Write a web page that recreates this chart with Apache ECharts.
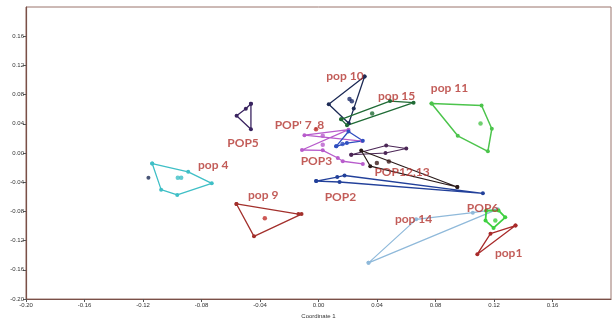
<!DOCTYPE html>
<html><head><meta charset="utf-8">
<script src="https://cdn.jsdelivr.net/npm/echarts@6/dist/echarts.min.js"></script>
<style>html,body{margin:0;padding:0;background:#fff}#c{width:612px;height:324px}</style>
</head><body><div id="c"></div>
<script>
// ---- data (Coordinate 1, Coordinate 2) ----
const axisMin = -0.2, axisMax = 0.2, axisStep = 0.04;

const pop4Hull  = [[-0.1137,-0.0145],[-0.0891,-0.0258],[-0.0730,-0.0416],[-0.0966,-0.0574],[-0.1076,-0.0502]];
const pop4Inner = [[-0.0962,-0.0339],[-0.0939,-0.0339]];
const pop9Hull  = [[-0.0561,-0.0698],[-0.0137,-0.0837],[-0.0116,-0.0837],[-0.0441,-0.1142]];
const pop9Inner = [[-0.0367,-0.0895]];
const pop5Hull  = [[-0.0462,0.0675],[-0.0497,0.0606],[-0.0560,0.0511],[-0.0462,0.0325]];
const pop10Hull = [[0.0315,0.1048],[0.0070,0.0669],[0.0207,0.0407],[0.0241,0.0608]];
const pop10Inner= [[0.0212,0.0739],[0.0228,0.0709]];
const pop15Hull = [[0.0155,0.0461],[0.0489,0.0712],[0.0650,0.0689],[0.0195,0.0380]];
const pop15Inner= [[0.0367,0.0542]];
const pop11Hull = [[0.0773,0.0678],[0.1115,0.0651],[0.1185,0.0332],[0.1158,0.0023],[0.0952,0.0235]];
const pop11Inner= [[0.1108,0.0404]];
const pop3Path  = [[0.0298,0.0163],[-0.0096,0.0244],[0.0205,0.0319],[-0.0113,0.0041],[0.0029,0.0037],[0.0132,-0.0068],[0.0166,-0.0113],[0.0303,-0.0149]];
const pop3Inner = [[0.0029,0.0235],[0.0029,0.0113]];
const pop78Hull = [[0.0121,0.0091],[0.0205,0.0294],[0.0303,0.0167],[0.0194,0.0136]];
const pop78Inner= [[0.0164,0.0122]];
const pop78Mark = [[-0.0017,0.0325]];
const pop12Hull = [[0.0224,-0.0023],[0.0463,0.0102],[0.0600,0.0061],[0.0458,0.0000]];
const pop13Hull = [[0.0949,-0.0465],[0.0292,0.0034],[0.0354,-0.0180]];
const pop13Inner= [[0.0399,-0.0136],[0.0481,-0.0115]];
const pop2Hull  = [[-0.0016,-0.0384],[0.0128,-0.0330],[0.0178,-0.0308],[0.1124,-0.0552],[0.0144,-0.0397]];
const pop14Hull = [[0.0342,-0.1505],[0.0668,-0.0909],[0.1055,-0.0818],[0.1226,-0.0769]];
const pop6Hull  = [[0.1147,-0.0791],[0.1231,-0.0787],[0.1277,-0.0881],[0.1197,-0.1026],[0.1142,-0.0926]];
const pop6Inner = [[0.1209,-0.0926]];
const pop1Hull  = [[0.1347,-0.0994],[0.1176,-0.1105],[0.1086,-0.1386]];
const strayPoint= [[-0.1163,-0.0339]];

const labelNames   = ['pop 10','pop 15','pop 11','POP5',"POP' 7 ,8",'POP3','POP12,13','POP2','pop 4','pop 9','pop 14','POP6','pop1'];
const labelAnchors = [[0.0181,0.1058],[0.0534,0.0780],[0.0896,0.0895],[-0.0516,0.0136],[-0.0130,0.0380],[-0.0014,-0.0108],[0.0571,-0.0258],[0.0150,-0.0610],[-0.0720,-0.0170],[-0.0378,-0.0576],[0.0650,-0.0909],[0.1122,-0.0753],[0.1300,-0.1376]];

// ---- series builders ----
function hull(pts, color, closed, width) {
  const d = closed ? pts.concat([pts[0]]) : pts.slice();
  return { type:'line', data:d, symbol:'circle', symbolSize:4, showSymbol:true,
    lineStyle:{color:color, width:width||1.3}, itemStyle:{color:color},
    silent:true, animation:false, z:2 };
}
function dots(pts, color, size) {
  return { type:'scatter', data:pts, symbol:'circle', symbolSize:size||4.5,
    itemStyle:{color:color}, silent:true, animation:false, z:3 };
}

const series = [
  hull(pop14Hull,'#8fb9da',true,1.2),
  hull(pop4Hull,'#3fbfc6',true), dots(pop4Inner,'#3fbfc6'),
  hull(pop9Hull,'#a3302c',true), dots(pop9Inner,'#c0302c'),
  hull(pop5Hull,'#3a2460',true),
  hull(pop10Hull,'#1c2a55',true), dots(pop10Inner,'#1c2a6a'),
  hull(pop15Hull,'#1f6b35',true), dots(pop15Inner,'#1f6b35'),
  hull(pop11Hull,'#4cc44c',true,1.5), dots(pop11Inner,'#4cc44c'),
  hull(pop3Path,'#b85ccc',false), dots(pop3Inner,'#b85ccc'),
  hull(pop78Hull,'#2f4fc0',true), dots(pop78Inner,'#2f4fc0'),
  dots(pop78Mark,'#c0302c'),
  hull(pop12Hull,'#4b2656',true,1.1),
  hull(pop13Hull,'#2a1a1a',true,1.1), dots(pop13Inner,'#3a1a1a'),
  hull(pop2Hull,'#22409a',true),
  hull(pop6Hull,'#3ed040',true,1.8), dots(pop6Inner,'#3ed040'),
  hull(pop1Hull,'#a82a2a',true), 
  dots(strayPoint,'#1c2a55',4),
  { type:'scatter', data:labelAnchors.map((p,i)=>({value:p, name:labelNames[i]})),
    symbolSize:0, silent:true, animation:false, z:5,
    label:{ show:true, position:'inside', formatter:p=>p.name,
      fontFamily:'Lato', fontWeight:'bold', fontSize:12, color:'#b3332e' } }
];

const tickFmt = v => (Math.abs(v) < 1e-9 ? 0 : v).toFixed(2);

const chart = echarts.init(document.getElementById('c'), null, {renderer:'canvas'});
chart.setOption({
  backgroundColor:'#fff',
  animation:false,
  grid:{ left:26, right:1, top:7, bottom:21, show:true, borderColor:'#9a746c', borderWidth:1 },
  xAxis:{ type:'value', min:axisMin, max:axisMax, interval:axisStep,
    name:'Coordinate 1', nameLocation:'middle', nameGap:14,
    nameTextStyle:{fontSize:6, color:'#333', fontFamily:'Liberation Sans'},
    axisLine:{show:true, onZero:false, lineStyle:{color:'#7a5048', width:1.2}},
    axisTick:{show:true, length:3, lineStyle:{color:'#555'}},
    axisLabel:{fontSize:6, color:'#333', margin:3, formatter:tickFmt, showMaxLabel:false, fontFamily:'Liberation Sans'},
    splitLine:{show:false} },
  yAxis:{ type:'value', min:axisMin, max:axisMax, interval:axisStep,
    axisLine:{show:true, onZero:false, lineStyle:{color:'#7a5048', width:1.2}},
    axisTick:{show:true, length:3, lineStyle:{color:'#555'}},
    axisLabel:{fontSize:6, color:'#333', margin:2, formatter:tickFmt, showMaxLabel:false, fontFamily:'Liberation Sans'},
    splitLine:{show:false} },
  series: series
});
</script></body></html>
